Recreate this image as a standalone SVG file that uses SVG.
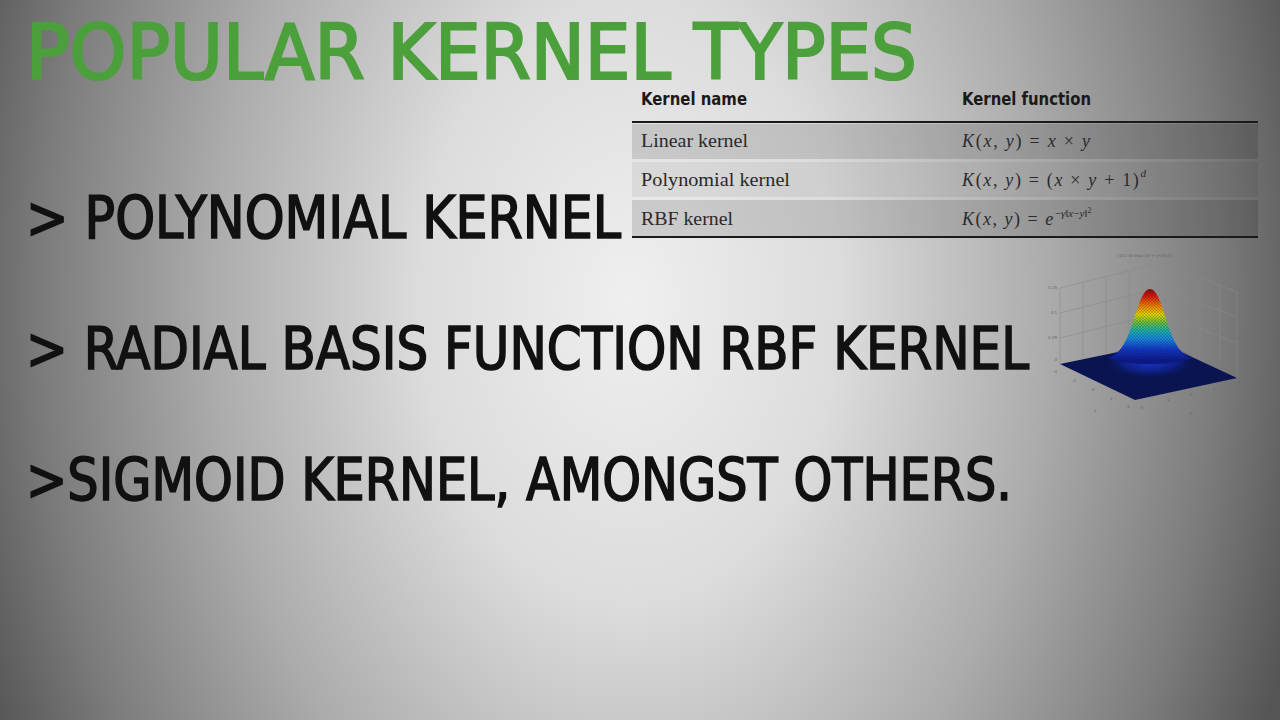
<svg xmlns="http://www.w3.org/2000/svg" width="1280" height="720" viewBox="0 0 1280 720">
<defs>
<radialGradient id="bg" gradientUnits="userSpaceOnUse" cx="630" cy="300" r="700" gradientTransform="translate(630 300) scale(1 1.45) translate(-630 -300)">
<stop offset="0" stop-color="#efefef"/>
<stop offset="0.3" stop-color="#dcdcdc"/>
<stop offset="0.6" stop-color="#ababab"/>
<stop offset="0.84" stop-color="#7c7c7c"/>
<stop offset="1" stop-color="#555555"/>
</radialGradient>
<linearGradient id="bell" gradientUnits="userSpaceOnUse" x1="0" y1="289" x2="0" y2="360">
<stop offset="0" stop-color="#8a0c0c"/>
<stop offset="0.1" stop-color="#d81c10"/>
<stop offset="0.25" stop-color="#f08a00"/>
<stop offset="0.36" stop-color="#e0d800"/>
<stop offset="0.47" stop-color="#70c040"/>
<stop offset="0.58" stop-color="#20b4a8"/>
<stop offset="0.7" stop-color="#1a8ae0"/>
<stop offset="0.85" stop-color="#1438c8"/>
<stop offset="1" stop-color="#0c1c90"/>
</linearGradient>
<radialGradient id="glow" cx="0.5" cy="0.5" r="0.5">
<stop offset="0" stop-color="#1838c8"/>
<stop offset="0.6" stop-color="#10249a" stop-opacity="0.7"/>
<stop offset="1" stop-color="#0a1450" stop-opacity="0"/>
</radialGradient>
<pattern id="mesh" width="3" height="3" patternUnits="userSpaceOnUse">
<path d="M0 0 L3 3 M3 0 L0 3" stroke="#000" stroke-width="0.35" stroke-opacity="0.45"/>
</pattern>
<style>
.title{font-family:"DejaVu Sans Condensed","DejaVu Sans",sans-serif;fill:#4ca03c;stroke:#4ca03c;stroke-width:2.2;}
.bul{font-family:"DejaVu Sans Condensed","DejaVu Sans",sans-serif;fill:#111;stroke:#111;stroke-width:1.6;}
.th{font-family:"Liberation Sans Narrow","DejaVu Sans Condensed",sans-serif;font-weight:bold;font-size:18px;fill:#1a1a1a;}
.td{font-family:"Liberation Serif",serif;font-size:18px;fill:#2a2a2a;}
.it{font-style:italic;}
.rule{stroke:#1a1a1a;stroke-width:2;}
.grid{stroke:#8a8a8a;stroke-width:0.6;fill:none;}
.tick{font-family:"DejaVu Sans",sans-serif;font-size:4px;fill:#666;}
</style>
</defs>
<rect width="1280" height="720" fill="url(#bg)"/>

<g id="title">
<text class="title" x="26" y="79" font-size="77" textLength="891" lengthAdjust="spacingAndGlyphs">POPULAR KERNEL TYPES</text>
</g>

<g id="bullet-polynomial">
<text class="bul" x="26" y="238" font-size="59" textLength="595" lengthAdjust="spacingAndGlyphs">&gt; POLYNOMIAL KERNEL</text>
</g>
<g id="bullet-rbf">
<text class="bul" x="26" y="369" font-size="59" textLength="1003" lengthAdjust="spacingAndGlyphs">&gt; RADIAL BASIS FUNCTION RBF KERNEL</text>
</g>
<g id="bullet-sigmoid">
<text class="bul" x="26" y="500" font-size="59" textLength="986" lengthAdjust="spacingAndGlyphs">&gt;SIGMOID KERNEL, AMONGST OTHERS.</text>
</g>

<g id="kernel-table">
<rect x="632" y="124" width="626" height="35" fill="#000" fill-opacity="0.13"/>
<rect x="632" y="162" width="626" height="35" fill="#000" fill-opacity="0.06"/>
<rect x="632" y="200" width="626" height="36" fill="#000" fill-opacity="0.13"/>
<text class="th" x="641" y="105" textLength="106" lengthAdjust="spacingAndGlyphs">Kernel name</text>
<text class="th" x="962" y="105" textLength="129" lengthAdjust="spacingAndGlyphs">Kernel function</text>
<line class="rule" x1="632" y1="122" x2="1258" y2="122"/>
<line class="rule" x1="632" y1="237" x2="1258" y2="237"/>
<text class="td" x="641" y="147" textLength="107" lengthAdjust="spacingAndGlyphs">Linear kernel</text>
<text class="td" x="641" y="186" textLength="149" lengthAdjust="spacingAndGlyphs">Polynomial kernel</text>
<text class="td" x="641" y="225" textLength="92" lengthAdjust="spacingAndGlyphs">RBF kernel</text>
<text class="td" x="962" y="147" textLength="128" lengthAdjust="spacing"><tspan class="it">K</tspan>(<tspan class="it">x</tspan>, <tspan class="it">y</tspan>) = <tspan class="it">x</tspan> × <tspan class="it">y</tspan></text>
<text class="td" x="962" y="186" textLength="184" lengthAdjust="spacing"><tspan class="it">K</tspan>(<tspan class="it">x</tspan>, <tspan class="it">y</tspan>) = (<tspan class="it">x</tspan> × <tspan class="it">y</tspan> + 1)<tspan class="it" font-size="11" dy="-9">d</tspan></text>
<text class="td" x="962" y="225" letter-spacing="1.5"><tspan class="it">K</tspan>(<tspan class="it">x</tspan>, <tspan class="it">y</tspan>) = <tspan class="it">e</tspan><tspan font-size="11" dy="-8" letter-spacing="0">−<tspan class="it">γ</tspan>‖<tspan class="it">x</tspan>−<tspan class="it">y</tspan>‖</tspan><tspan font-size="8" dy="-4" letter-spacing="0">2</tspan></text>
</g>

<g id="rbf-plot">
<text class="tick" x="1145" y="257" text-anchor="middle">[1/(2 40 exp(-(x² + y²)/0.2)]</text>
<path class="grid" d="M1060 288 L1160 263 L1237 292 L1237 378 M1160 263 L1160 343 M1060 288 L1060 364"/>
<path class="grid" d="M1083 282 L1083 359 M1106 277 L1106 353 M1129 271 L1129 348 M1060 313 L1160 288 L1237 317 M1060 338 L1160 313 L1237 343 M1180 270 L1180 350 M1200 278 L1200 358 M1220 285 L1220 366"/>
<text class="tick" x="1057" y="289" text-anchor="end">0.15</text>
<text class="tick" x="1057" y="314" text-anchor="end">0.1</text>
<text class="tick" x="1057" y="339" text-anchor="end">0.05</text>
<text class="tick" x="1057" y="361" text-anchor="end">0</text>
<polygon points="1060,364 1162,343 1237,378 1135,400" fill="#0a1450"/>
<ellipse cx="1150" cy="362" rx="46" ry="17" fill="url(#glow)"/>
<path d="M1108,358 C1125,353 1130,330 1137,310 C1142,294 1146,289 1150,289 C1154,289 1158,294 1163,310 C1170,330 1175,353 1192,358 C1170,366 1130,366 1108,358 Z" fill="url(#bell)"/>
<path d="M1108,358 C1125,353 1130,330 1137,310 C1142,294 1146,289 1150,289 C1154,289 1158,294 1163,310 C1170,330 1175,353 1192,358 C1170,366 1130,366 1108,358 Z" fill="url(#mesh)"/>
<text class="tick" x="1053" y="373">-4</text>
<text class="tick" x="1072" y="382">-2</text>
<text class="tick" x="1092" y="391">0</text>
<text class="tick" x="1110" y="400">2</text>
<text class="tick" x="1127" y="408">4</text>
<text class="tick" x="1139" y="409">-4</text>
<text class="tick" x="1166" y="401">-2</text>
<text class="tick" x="1190" y="396">0</text>
<text class="tick" x="1213" y="390">2</text>
<text class="tick" x="1238" y="384">4</text>
<text class="tick" x="1094" y="412">x</text>
<text class="tick" x="1190" y="414">y</text>
</g>
</svg>
